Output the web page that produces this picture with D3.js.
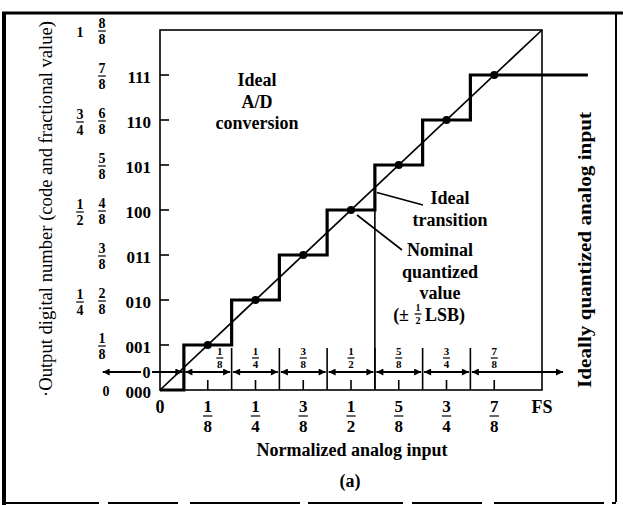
<!DOCTYPE html>
<html><head><meta charset="utf-8">
<script src="https://cdn.jsdelivr.net/npm/d3@7"></script>
<style>body{margin:0;background:#fff} svg{display:block}</style>
</head><body><svg id="c" width="623" height="505"></svg>
<script>
// ---- data ----
const codes = ["000","001","010","011","100","101","110","111"];
const codeLevels = [0,1/8,2/8,3/8,4/8,5/8,6/8,7/8];
const eighthLabels = ["0","1/8","2/8","3/8","4/8","5/8","6/8","7/8","8/8"];
const eighthValues = [0,1/8,2/8,3/8,4/8,5/8,6/8,7/8,1];
const quarterLabels = ["1/4","1/2","3/4","1"];
const quarterValues = [1/4,1/2,3/4,1];
const xTickLabels = ["0","1/8","1/4","3/8","1/2","5/8","3/4","7/8","FS"];
const xTickValues = [0,1/8,2/8,3/8,4/8,5/8,6/8,7/8,1];
const transitions = [1/16,3/16,5/16,7/16,9/16,11/16,13/16];
const outputLevels = [0,1/8,2/8,3/8,4/8,5/8,6/8,7/8];
const nominalPoints = [1/8,2/8,3/8,4/8,5/8,6/8,7/8];
const bandLabels = ["1/8","1/4","3/8","1/2","5/8","3/4","7/8"];
const bandLabelValues = [1/8,2/8,3/8,4/8,5/8,6/8,7/8];
const stepExtend = 1.12;     // last step runs past FS
const bandStart = -0.15, bandEnd = 1.055;

// ---- layout ----
const svg = d3.select("#c");
const x = d3.scaleLinear().domain([0,1]).range([160,542]);
const y = d3.scaleLinear().domain([0,1]).range([390,30]);
const serif = "'Liberation Serif','Times New Roman',serif";
const bandArrowY = 372, bandTop = 348, bandLabelY = 358;

const defs = svg.append("defs");
defs.append("marker").attr("id","ah").attr("viewBox","0 0 10 10").attr("refX",10).attr("refY",5)
  .attr("markerWidth",9).attr("markerHeight",7).attr("markerUnits","userSpaceOnUse")
  .attr("orient","auto-start-reverse")
  .append("path").attr("d","M0,0 L10,5 L0,10 z").attr("fill","#000");

// outer border
svg.append("line").attr("x1",4).attr("x2",4).attr("y1",12).attr("y2",505).attr("stroke","#000").attr("stroke-width",4);
svg.append("line").attr("x1",2).attr("x2",623).attr("y1",13).attr("y2",13).attr("stroke","#000").attr("stroke-width",3);
svg.append("line").attr("x1",616).attr("x2",616).attr("y1",13).attr("y2",502).attr("stroke","#000").attr("stroke-width",2);
svg.append("line").attr("x1",4).attr("x2",616).attr("y1",503).attr("y2",503).attr("stroke","#000").attr("stroke-width",2).attr("stroke-dasharray","95,9,70,12,110,8");

// plot frame
svg.append("rect").attr("x",x(0)).attr("y",y(1)).attr("width",x(1)-x(0)).attr("height",y(0)-y(1))
  .attr("fill","none").attr("stroke","#000").attr("stroke-width",1.6);

// left ticks
svg.selectAll(".lt").data(codeLevels.slice(1)).enter().append("line")
  .attr("x1",x(0)).attr("x2",x(0)+9).attr("y1",d=>y(d)).attr("y2",d=>y(d)).attr("stroke","#000").attr("stroke-width",1.6);
// bottom ticks
svg.selectAll(".bt").data(xTickValues.slice(1,8)).enter().append("line")
  .attr("x1",d=>x(d)).attr("x2",d=>x(d)).attr("y1",y(0)-10).attr("y2",y(0)).attr("stroke","#000").attr("stroke-width",1.6);

// band verticals
svg.selectAll(".bv").data(transitions.slice(1)).enter().append("line")
  .attr("x1",d=>x(d)).attr("x2",d=>x(d)).attr("y1",bandTop).attr("y2",y(0)).attr("stroke","#000").attr("stroke-width",1.6);
// ideal transition line at 9/16
svg.append("line").attr("x1",x(9/16)).attr("x2",x(9/16)).attr("y1",y(1/2)).attr("y2",y(0)).attr("stroke","#000").attr("stroke-width",1.6);

// band arrows
const bounds = [bandStart].concat(transitions).concat([bandEnd]);
const segs = d3.range(bounds.length-1).map(i=>[bounds[i],bounds[i+1]]);
svg.selectAll(".ba").data(segs).enter().append("line")
  .attr("x1",(d,i)=>x(d[0])+(i===0?0:1.5)).attr("x2",(d,i)=>x(d[1])-(i===segs.length-1?0:1.5))
  .attr("y1",bandArrowY).attr("y2",bandArrowY)
  .attr("stroke","#000").attr("stroke-width",1.8)
  .attr("marker-start","url(#ah)").attr("marker-end","url(#ah)");
// "0" on band arrow
svg.append("rect").attr("x",141).attr("y",bandArrowY-8).attr("width",11).attr("height",16).attr("fill","#fff");
svg.append("text").attr("x",146.5).attr("y",bandArrowY).attr("dy","0.35em").attr("text-anchor","middle")
  .attr("font-family",serif).attr("font-weight","bold").attr("font-size",16).text("0");

// fraction helper
function frac(g, cx, cy, label, size, gap, weight){
  const parts = label.split("/");
  const t = g.append("g").attr("font-family",serif).attr("font-weight",weight||"bold").attr("font-size",size).attr("text-anchor","middle");
  if(parts.length===1){
    t.append("text").attr("x",cx).attr("y",cy).attr("dy","0.35em").text(label);
  } else {
    t.append("text").attr("x",cx).attr("y",cy-gap).attr("dy","0.35em").text(parts[0]);
    t.append("text").attr("x",cx).attr("y",cy+gap).attr("dy","0.35em").text(parts[1]);
    const w = Math.max(size*0.55, 7);
    t.append("line").attr("x1",cx-w/2).attr("x2",cx+w/2).attr("y1",cy).attr("y2",cy).attr("stroke","#000").attr("stroke-width",1.2);
  }
}

// band labels
bandLabels.forEach((l,i)=>frac(svg, x(bandLabelValues[i])+(i===0?12:0), bandLabelY, l, 11, 6.5));

// staircase
const stairPts = [[0,outputLevels[0]]];
transitions.forEach((t,i)=>{ stairPts.push([t,outputLevels[i]]); stairPts.push([t,outputLevels[i+1]]); });
stairPts.push([stepExtend,outputLevels[outputLevels.length-1]]);
svg.append("path").attr("d",d3.line().x(d=>x(d[0])).y(d=>y(d[1]))(stairPts))
  .attr("fill","none").attr("stroke","#000").attr("stroke-width",3.2).attr("stroke-linejoin","miter");

// diagonal
svg.append("line").attr("x1",x(0)).attr("y1",y(0)).attr("x2",x(1)).attr("y2",y(1)).attr("stroke","#000").attr("stroke-width",1.7);

// nominal dots
svg.selectAll(".dot").data(nominalPoints).enter().append("circle")
  .attr("cx",d=>x(d)).attr("cy",d=>y(d)).attr("r",4).attr("fill","#000");

// left labels: codes
svg.selectAll(".code").data(codes).enter().append("text")
  .attr("x",151).attr("y",(d,i)=>y(codeLevels[i])+2).attr("dy","0.35em").attr("text-anchor","end")
  .attr("font-family",serif).attr("font-weight","bold").attr("font-size",17).text(d=>d);
// eighths column
eighthLabels.forEach((l,i)=>frac(svg, i===0?106:102, y(eighthValues[i])+1, l, 14, 8));
// quarters column
quarterLabels.forEach((l,i)=>frac(svg, 80, y(quarterValues[i])+2, l, 14, 8));

// x tick labels
xTickLabels.forEach((l,i)=>{
  if(l.indexOf("/")<0) frac(svg, x(xTickValues[i]), 407, l, 18, 0);
  else frac(svg, x(xTickValues[i]), 416, l, 17, 10);
});

// axis titles
svg.append("text").attr("x",352).attr("y",450).attr("dy","0.35em").attr("text-anchor","middle")
  .attr("font-family",serif).attr("font-weight","bold").attr("font-size",18).text("Normalized analog input");
svg.append("text").attr("x",350).attr("y",481).attr("dy","0.35em").attr("text-anchor","middle")
  .attr("font-family",serif).attr("font-weight","bold").attr("font-size",18).text("(a)");
svg.append("text").attr("transform","translate(45,209) rotate(-90)").attr("dy","0.35em").attr("text-anchor","middle")
  .attr("font-family",serif).attr("font-size",19).attr("textLength",376).attr("lengthAdjust","spacingAndGlyphs")
  .text("·Output digital number (code and fractional value)");
svg.append("text").attr("transform","translate(584,250) rotate(-90)").attr("dy","0.35em").attr("text-anchor","middle")
  .attr("font-family",serif).attr("font-weight","bold").attr("font-size",19).attr("textLength",276).attr("lengthAdjust","spacingAndGlyphs")
  .text("Ideally quantized analog input");

// annotations
function block(cx, ys, lines, size){
  lines.forEach((t,i)=>svg.append("text").attr("x",cx).attr("y",ys[i]).attr("dy","0.35em").attr("text-anchor","middle")
    .attr("font-family",serif).attr("font-weight","bold").attr("font-size",size).text(t));
}
block(257,[80,102,123],["Ideal","A/D","conversion"],18);
block(450,[198,220],["Ideal","transition"],18);
block(440,[250,272,293],["Nominal","quantized","value"],18);
// (± ½ LSB)
const lsb = svg.append("g").attr("font-family",serif).attr("font-weight","bold").attr("font-size",18);
lsb.append("text").attr("x",409).attr("y",315).attr("dy","0.35em").attr("text-anchor","end").text("(±");
frac(svg, 418, 314, "1/2", 10, 6.5);
lsb.append("text").attr("x",425).attr("y",315).attr("dy","0.35em").attr("text-anchor","start").text("LSB)");

// leader lines
svg.append("line").attr("x1",x(9/16)+2).attr("y1",y(9/16)+5).attr("x2",423).attr("y2",205).attr("stroke","#000").attr("stroke-width",1.6);
svg.append("line").attr("x1",x(1/2)+6).attr("y1",y(1/2)+5).attr("x2",402).attr("y2",250).attr("stroke","#000").attr("stroke-width",1.6);
</script></body></html>
